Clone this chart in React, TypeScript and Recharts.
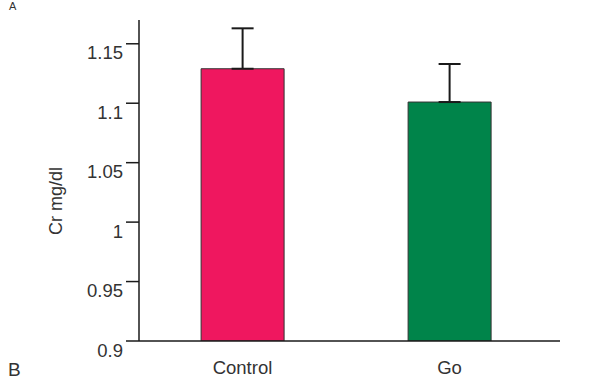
import { Bar, BarChart, Cell, ErrorBar, Label, XAxis, YAxis } from 'recharts';

const categories = ['Control', 'Go'];
const means = [1.129, 1.101];
const sdUpper = [0.034, 0.032];
const barColors = ['#EF175F', '#00844A'];
const yTicks = [0.9, 0.95, 1, 1.05, 1.1, 1.15];

const data = categories.map((name, i) => ({
  name,
  value: means[i],
  err: [0, sdUpper[i]],
}));

const font = 'Liberation Sans, Arial, sans-serif';

export default function App() {
  return (
    <div
      style={{
        position: 'absolute',
        left: 0,
        top: 0,
        width: 592,
        height: 384,
        overflow: 'hidden',
        background: '#fff',
        fontFamily: font,
      }}
    >
      <BarChart
        width={592}
        height={384}
        data={data}
        margin={{ top: 20, right: 32, bottom: 0, left: 0 }}
        barCategoryGap="30%"
      >
        <XAxis
          dataKey="name"
          height={43}
          padding={{ left: 0, right: 7 }}
          axisLine={{ stroke: '#1a1a1a', strokeWidth: 1.5 }}
          tickLine={false}
          tickSize={8}
          tickMargin={12}
          tick={{ fill: '#333', fontSize: 18.5, fontFamily: font }}
        />
        <YAxis
          width={139}
          domain={[0.9, 1.17]}
          ticks={yTicks}
          allowDataOverflow
          axisLine={{ stroke: '#1a1a1a', strokeWidth: 1.5 }}
          tickLine={{ stroke: '#1a1a1a', strokeWidth: 1.5 }}
          tickSize={13}
          tickMargin={3}
          tick={{ fill: '#333', fontSize: 18.5, fontFamily: font, dy: 9 }}
        >
          <Label
            content={() => (
              <text
                x={56}
                y={201}
                transform="rotate(-90 56 201)"
                textAnchor="middle"
                dominantBaseline="central"
                fill="#333"
                fontSize={18}
                fontFamily={font}
              >
                Cr mg/dl
              </text>
            )}
          />
        </YAxis>
        <Bar dataKey="value" stroke="#333" strokeWidth={1} isAnimationActive={false}>
          {data.map((d, i) => (
            <Cell key={d.name} fill={barColors[i]} />
          ))}
          <ErrorBar dataKey="err" width={11} stroke="#1a1a1a" strokeWidth={2} direction="y" />
        </Bar>
      </BarChart>
      <div
        style={{
          position: 'absolute',
          left: 8,
          top: 359,
          fontSize: 19,
          lineHeight: '22px',
          color: '#333',
        }}
      >
        B
      </div>
      <div
        style={{
          position: 'absolute',
          left: 9,
          top: 0,
          fontSize: 11,
          lineHeight: '12px',
          color: '#333',
        }}
      >
        A
      </div>
    </div>
  );
}
